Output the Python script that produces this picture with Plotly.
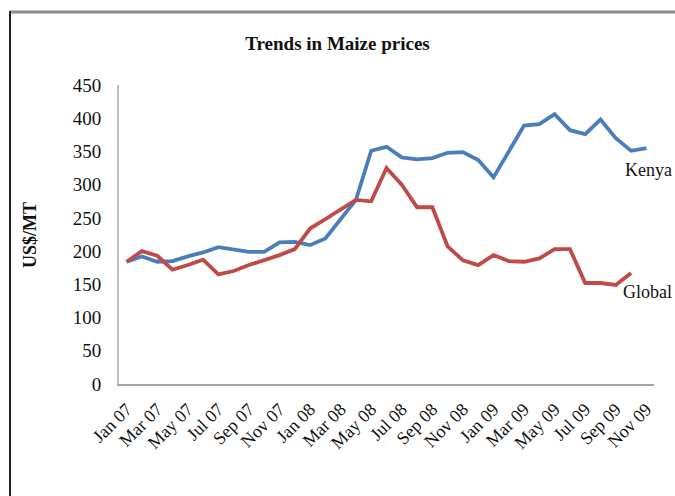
import plotly.graph_objects as go

months = ["Jan 07", "Feb 07", "Mar 07", "Apr 07", "May 07", "Jun 07", "Jul 07", "Aug 07",
          "Sep 07", "Oct 07", "Nov 07", "Dec 07",
          "Jan 08", "Feb 08", "Mar 08", "Apr 08", "May 08", "Jun 08", "Jul 08", "Aug 08",
          "Sep 08", "Oct 08", "Nov 08", "Dec 08",
          "Jan 09", "Feb 09", "Mar 09", "Apr 09", "May 09", "Jun 09", "Jul 09", "Aug 09",
          "Sep 09", "Oct 09", "Nov 09"]

kenya = [184, 192, 184, 185, 192, 198, 206, 203, 199, 199, 213, 214,
         209, 219, 247, 277, 351, 357, 341, 338, 340, 348, 349, 337,
         311, 351, 389, 391, 406, 382, 376, 398, 370, 351, 355]

global_ = [184, 200, 193, 172, 179, 187, 165, 170, 179, 186, 194, 203,
           234, 248, 263, 277, 275, 325, 300, 266, 266, 207, 186, 179,
           194, 185, 184, 189, 203, 203, 152, 152, 149, 167]

tick_labels = months[::2]

y_ticks = [0, 50, 100, 150, 200, 250, 300, 350, 400, 450]

BLUE = "#4A7EBB"
RED = "#BE4B48"
SERIF = "Liberation Serif, Times New Roman, serif"

fig = go.Figure()
fig.add_trace(go.Scatter(x=months, y=kenya, mode="lines", name="Kenya",
                         line=dict(color=BLUE, width=3.8)))
fig.add_trace(go.Scatter(x=months[:len(global_)], y=global_, mode="lines", name="Global",
                         line=dict(color=RED, width=3.8)))

W, H = 675, 496
L, R, T, B = 119, 21, 85, 112

fig.update_layout(
    width=W, height=H,
    margin=dict(l=L, r=R, t=T, b=B),
    paper_bgcolor="white", plot_bgcolor="white",
    showlegend=False,
    title=dict(text="<b>Trends in Maize prices</b>", xref="container", yref="container",
               x=0.5, y=1 - 43 / H, xanchor="center", yanchor="middle",
               font=dict(family=SERIF, size=19, color="#111")),
    font=dict(family=SERIF, color="#111"),
)

fig.update_xaxes(type="category", range=[-0.5, len(months) - 0.5],
                 tickmode="array", tickvals=tick_labels, ticktext=tick_labels,
                 tickangle=-45, tickfont=dict(family=SERIF, size=18, color="#111"),
                 showline=True, linecolor="#A6A6A6", linewidth=1.5,
                 showgrid=False, zeroline=False, ticks="", ticklabelstandoff=6)
fig.update_yaxes(range=[0, 450], tickmode="array", tickvals=y_ticks,
                 tickfont=dict(family=SERIF, size=19, color="#111"),
                 showline=True, linecolor="#BFBFBF", linewidth=2,
                 showgrid=False, zeroline=False, ticks="", ticklabelstandoff=12)

pw, ph = W - L - R, H - T - B
def px(xp):
    return (xp - L) / pw
def py(yp):
    return (H - B - yp) / ph

fig.add_annotation(text="<b>US$/MT</b>", xref="paper", yref="paper",
                   x=px(30), y=py(235), textangle=-90, showarrow=False,
                   xanchor="center", yanchor="middle",
                   font=dict(family=SERIF, size=18, color="#111"))
fig.add_annotation(text="Kenya", xref="x", yref="y", x=32.45, y=322,
                   xanchor="left", yanchor="middle", showarrow=False,
                   font=dict(family=SERIF, size=18, color="#111"))
fig.add_annotation(text="Global", xref="x", yref="y", x=32.35, y=138,
                   xanchor="left", yanchor="middle", showarrow=False,
                   font=dict(family=SERIF, size=18, color="#111"))

# outer frame (top and left edges visible)
fig.add_shape(type="line", xref="paper", yref="paper",
              x0=px(10), x1=px(W + 5), y0=py(12), y1=py(12),
              line=dict(color="#8C8C8C", width=3))
fig.add_shape(type="line", xref="paper", yref="paper",
              x0=px(10), x1=px(10), y0=py(11), y1=py(H + 5),
              line=dict(color="#222", width=2))

fig.write_html("out.html", config={"displayModeBar": False},
               post_script="document.body.style.margin='0';document.body.style.overflow='hidden';")
